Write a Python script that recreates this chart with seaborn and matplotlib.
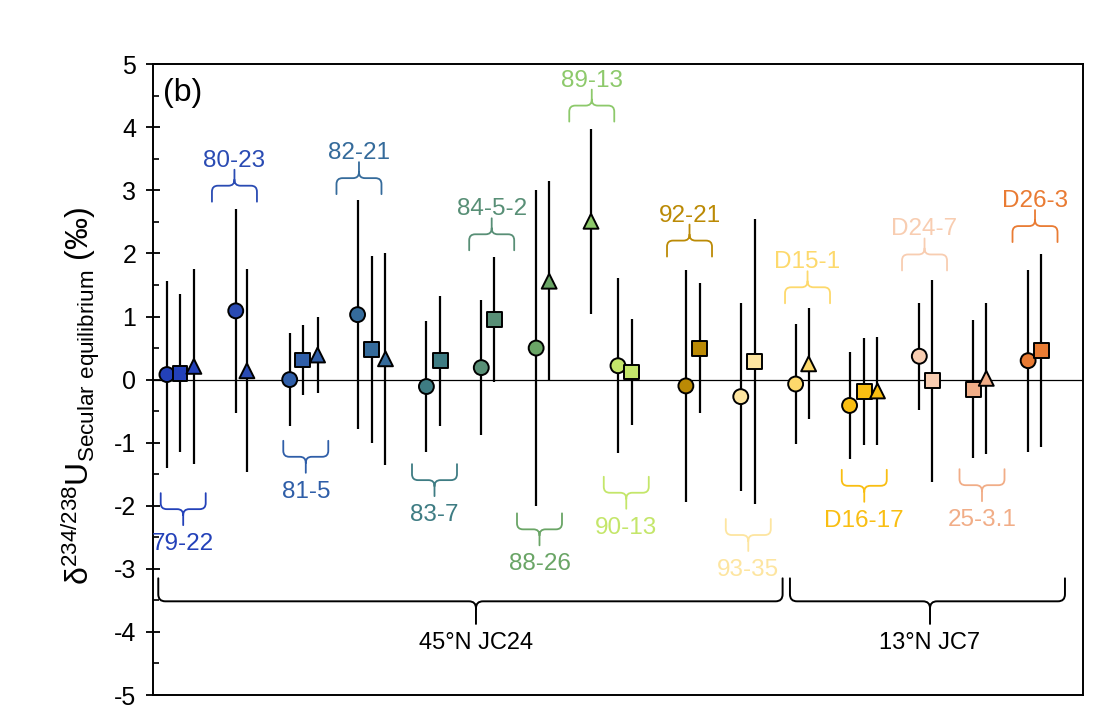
import matplotlib
matplotlib.use("Agg")
import matplotlib.pyplot as plt
import numpy as np
import pandas as pd
import seaborn as sns
from matplotlib.path import Path
from matplotlib.patches import PathPatch
from matplotlib.ticker import MultipleLocator

# ---- data -------------------------------------------------------------
samples = ['79-22', '80-23', '81-5', '82-21', '83-7', '84-5-2', '88-26', '89-13',
           '90-13', '92-21', '93-35', 'D15-1', 'D16-17', 'D24-7', '25-3.1', 'D26-3']
sample_colors = ['#2341b9', '#2a4bb3', '#2f5ea8', '#356b9b', '#3e7c83', '#588f76',
                 '#6aa566', '#8dc96b', '#c4e66a', '#bb8a05', '#fde5a0', '#fdd96c',
                 '#f9be12', '#f8cdb1', '#f1ad87', '#e97b33']

pt_sample = ['79-22', '79-22', '79-22', '80-23', '80-23', '81-5', '81-5', '81-5',
             '82-21', '82-21', '82-21', '83-7', '83-7', '84-5-2', '84-5-2',
             '88-26', '88-26', '89-13', '90-13', '90-13', '92-21', '92-21',
             '93-35', '93-35', 'D15-1', 'D15-1', 'D16-17', 'D16-17', 'D16-17',
             'D24-7', 'D24-7', '25-3.1', '25-3.1', 'D26-3', 'D26-3']
pt_shape = ['circle', 'square', 'triangle', 'circle', 'triangle',
            'circle', 'square', 'triangle', 'circle', 'square', 'triangle',
            'circle', 'square', 'circle', 'square', 'circle', 'triangle',
            'triangle', 'circle', 'square', 'circle', 'square',
            'circle', 'square', 'circle', 'triangle',
            'circle', 'square', 'triangle', 'circle', 'square',
            'square', 'triangle', 'circle', 'square']
pt_x = [1.5, 2.9, 4.4, 8.9, 10.1, 14.7, 16.1, 17.7, 22.0, 23.5, 25.0,
        29.4, 30.9, 35.3, 36.7, 41.2, 42.6, 47.1, 50.0, 51.5, 57.3, 58.8,
        63.2, 64.7, 69.1, 70.5, 74.9, 76.5, 77.9, 82.4, 83.8, 88.2, 89.6,
        94.1, 95.5]
pt_value = [0.08, 0.10, 0.21, 1.09, 0.14, 0.00, 0.31, 0.39, 1.03, 0.48, 0.33,
            -0.11, 0.30, 0.19, 0.95, 0.50, 1.56, 2.51, 0.22, 0.12, -0.10, 0.50,
            -0.27, 0.29, -0.07, 0.25, -0.41, -0.19, -0.18, 0.37, -0.02,
            -0.15, 0.02, 0.30, 0.46]
pt_err = [1.48, 1.25, 1.55, 1.62, 1.61, 0.74, 0.56, 0.60, 1.82, 1.48, 1.68,
          1.04, 1.03, 1.07, 0.99, 2.50, 1.59, 1.47, 1.39, 0.84, 1.84, 1.03,
          1.49, 2.26, 0.95, 0.88, 0.85, 0.85, 0.86, 0.85, 1.60, 1.10, 1.20,
          1.44, 1.53]

# sample brace placement: centre x, end of the brace legs, and which way it opens
brace_xc = [3.25, 8.76, 16.43, 22.15, 30.27, 36.42, 41.56, 47.18,
            50.89, 57.69, 64.01, 70.38, 76.48, 82.96, 89.14, 94.84]
brace_yleg = [-1.80, 2.82, -0.97, 2.94, -1.34, 2.05, -2.12, 4.09,
              -1.54, 1.95, -2.21, 1.21, -1.43, 1.73, -1.42, 2.18]
brace_dir = [-1, 1, -1, 1, -1, 1, -1, 1, -1, 1, -1, 1, -1, 1, -1, 1]

sites = ['45°N JC24', '13°N JC7']
site_x0 = [0.57, 68.49]
site_x1 = [67.70, 98.06]
site_xtip = [34.73, 83.55]
site_yleg = [-3.15, -3.15]

df = pd.DataFrame({'sample': pt_sample, 'shape': pt_shape, 'x': pt_x,
                   'value': pt_value, 'err': pt_err})
palette = dict(zip(samples, sample_colors))

# ---- style ------------------------------------------------------------
sns.set_theme(style='white')
plt.rcParams['font.family'] = ['Liberation Sans', 'DejaVu Sans']
plt.rcParams['mathtext.fontset'] = 'custom'
plt.rcParams['mathtext.rm'] = 'Liberation Sans'
plt.rcParams['mathtext.default'] = 'regular'
plt.rcParams['axes.unicode_minus'] = False
plt.rcParams['text.color'] = 'black'
plt.rcParams['axes.labelcolor'] = 'black'

DPI = 100
fig = plt.figure(figsize=(11.15, 7.1), dpi=DPI)
ax = fig.add_axes([0.1372, 0.0211, 0.8341, 0.8885])
ax.set_xlim(0, 100)
ax.set_ylim(-5, 5)

ax.axhline(0, color='black', lw=0.9, zorder=1)
ax.vlines(df['x'], df['value'] - df['err'], df['value'] + df['err'],
          colors='black', lw=1.6, zorder=2)
sns.scatterplot(data=df, x='x', y='value', hue='sample', palette=palette,
                style='shape', markers={'circle': 'o', 'square': 's', 'triangle': '^'},
                s=115, edgecolor='black', linewidth=1.4, legend=False,
                zorder=3, ax=ax)

# pixels per data unit, for drawing braces with fixed-size curls
p0 = ax.transData.transform((0, 0))
sx = ax.transData.transform((1, 0))[0] - p0[0]
sy = ax.transData.transform((0, 1))[1] - p0[1]


def brace(x0, x1, xt, yleg, d, leg_px, tip_px, r_px, color, lw):
    ybar = yleg + d * leg_px / sy
    ytip = ybar + d * tip_px / sy
    rx = r_px / sx
    ry = d * r_px / sy
    verts = [(x0, yleg), (x0, ybar - ry), (x0, ybar), (x0 + rx, ybar),
             (xt - rx, ybar), (xt, ybar), (xt, ybar + ry), (xt, ytip),
             (xt, ybar + ry), (xt, ybar), (xt + rx, ybar),
             (x1 - rx, ybar), (x1, ybar), (x1, ybar - ry), (x1, yleg)]
    codes = [Path.MOVETO, Path.LINETO, Path.CURVE3, Path.CURVE3,
             Path.LINETO, Path.CURVE3, Path.CURVE3, Path.LINETO,
             Path.MOVETO, Path.CURVE3, Path.CURVE3,
             Path.LINETO, Path.CURVE3, Path.CURVE3, Path.LINETO]
    ax.add_patch(PathPatch(Path(verts, codes), facecolor='none',
                           edgecolor=color, lw=lw, zorder=2, clip_on=False,
                           capstyle='round', joinstyle='round'))
    return ytip


half_w = 22.5 / sx
for name, col, xc, yl, d in zip(samples, sample_colors, brace_xc, brace_yleg, brace_dir):
    brace(xc - half_w, xc + half_w, xc, yl, d, 16, 16, 6, col, 1.3)
    ax.text(xc, yl + (d * 46 - 5) / sy, name, color=col, fontsize=17.5,
            ha='center', va='center')

for name, x0, x1, xt, yl in zip(sites, site_x0, site_x1, site_xtip, site_yleg):
    ytip = brace(x0, x1, xt, yl, -1, 23, 22.6, 7, 'black', 1.4)
    ax.text(xt, ytip - 19 / sy, name, color='black', fontsize=17,
            ha='center', va='center')

# ---- axes -------------------------------------------------------------
ax.set_xticks([])
ax.set_xlabel('')
ax.set_yticks(np.arange(-5, 6, 1))
ax.yaxis.set_minor_locator(MultipleLocator(0.5))
ax.tick_params(axis='y', which='major', direction='inout', length=10, width=1.3,
               labelsize=18, pad=7, left=True, color='black', labelcolor='black')
ax.tick_params(axis='y', which='minor', direction='in', length=4, width=1.2,
               left=True, color='black')
for sp in ax.spines.values():
    sp.set_color('black')
    sp.set_linewidth(1.4)

ax.set_ylabel('δ$^{234/238}$U$_{Secular\\ equilibrium}$ (‰)', fontsize=23)
ax.yaxis.set_label_coords(-0.055, 0.474)

ax.text(0.011, 0.955, '(b)', transform=ax.transAxes, fontsize=23,
        ha='left', va='center')

fig.savefig('out.png', dpi=DPI)
